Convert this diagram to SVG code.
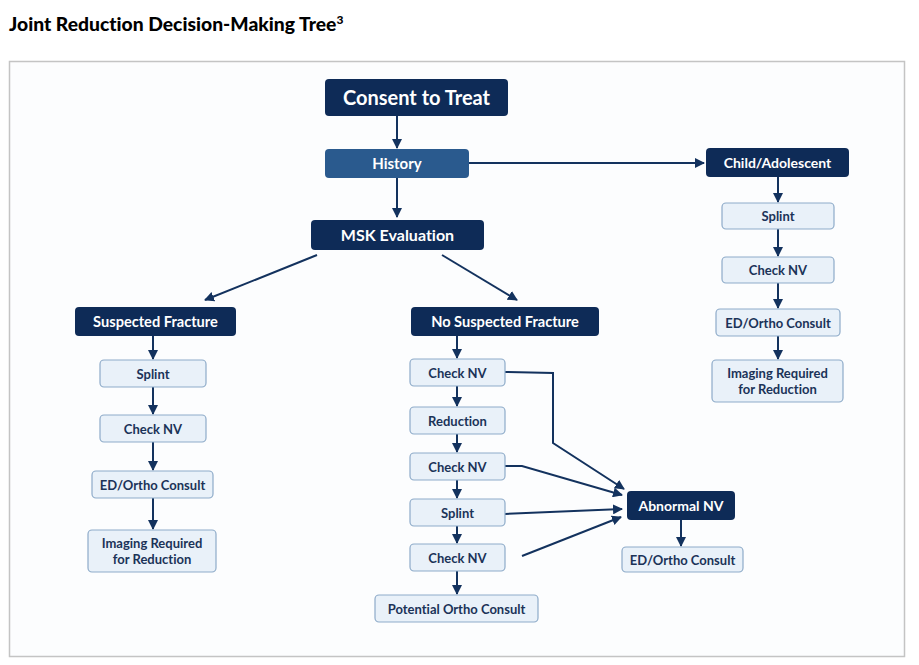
<svg xmlns="http://www.w3.org/2000/svg" width="919" height="665" viewBox="0 0 919 665">
<defs>
<marker id="ah" viewBox="0 0 10 10" refX="9" refY="5" markerWidth="10" markerHeight="10" markerUnits="userSpaceOnUse" orient="auto">
<path d="M0,0 L10,5 L0,10 z" fill="#13325e"/>
</marker>
</defs>
<style>
text{font-variant-ligatures:none;}
.dark{fill:#0e2b57;}
.mid{fill:#2a5a8e;}
.light{fill:#e9f1f9;stroke:#8eabc9;stroke-width:1.2;}
.wt{fill:#ffffff;font-family:Lato,"Open Sans",sans-serif;font-weight:bold;text-anchor:middle;}
.bt{fill:#1b3358;font-family:Lato,"Open Sans",sans-serif;font-weight:bold;text-anchor:middle;font-size:13px;}
.c{fill:none;stroke:#13325e;stroke-width:2;marker-end:url(#ah);}
</style>
<rect width="919" height="665" fill="#ffffff"/>
<text x="9" y="31" font-family="Lato,'Open Sans',sans-serif" font-weight="900" font-size="19.3" fill="#000">Joint Reduction Decision-Making Tree<tspan font-size="12" dy="-7">3</tspan></text>
<rect x="9.5" y="61.5" width="895" height="595" fill="#fcfdfe" stroke="#c4c4c4" stroke-width="1.5"/>

<g id="connectors">
<path class="c" d="M397,116 L397,148"/>
<path class="c" d="M397,178 L397,217"/>
<path class="c" d="M469,163 L704,163"/>
<path class="c" d="M317,255 L205,300"/>
<path class="c" d="M442,255 L517,300"/>
<path class="c" d="M778,177 L778,202"/>
<path class="c" d="M778,229 L778,256"/>
<path class="c" d="M778,283 L778,308"/>
<path class="c" d="M778,336 L778,359"/>
<path class="c" d="M153,336 L153,359"/>
<path class="c" d="M153,387 L153,414"/>
<path class="c" d="M153,442 L153,470"/>
<path class="c" d="M153,498 L153,529"/>
<path class="c" d="M457,336 L457,358"/>
<path class="c" d="M457,386 L457,406"/>
<path class="c" d="M457,434 L457,452"/>
<path class="c" d="M457,480 L457,498"/>
<path class="c" d="M457,526 L457,543"/>
<path class="c" d="M457,571 L457,594"/>
<path class="c" d="M505,372 L553,373 L553,443 L624,489"/>
<path class="c" d="M505,466 L522,466 L622,495"/>
<path class="c" d="M505,514 L622,509"/>
<path class="c" d="M522,556 L621,517"/>
<path class="c" d="M681,520 L681,546"/>
</g>

<g id="consent"><rect class="dark" x="325" y="79" width="183" height="37" rx="4"/><text class="wt" x="416.5" y="104.5" font-size="20">Consent to Treat</text></g>
<g id="history"><rect class="mid" x="325" y="149" width="144" height="29" rx="4"/><text class="wt" x="397" y="168.5" font-size="15">History</text></g>
<g id="msk"><rect class="dark" x="311" y="220" width="173" height="30" rx="4"/><text class="wt" x="397.5" y="240.5" font-size="16">MSK Evaluation</text></g>

<g id="child"><rect class="dark" x="706" y="148" width="143" height="29" rx="4"/><text class="wt" x="777.5" y="167.5" font-size="14">Child/Adolescent</text></g>
<g id="c-splint"><rect class="light" x="722" y="203" width="112" height="26" rx="4"/><text class="bt" x="778" y="221">Splint</text></g>
<g id="c-check"><rect class="light" x="722" y="257" width="112" height="26" rx="4"/><text class="bt" x="778" y="275">Check NV</text></g>
<g id="c-ed"><rect class="light" x="716" y="309" width="124" height="27" rx="4"/><text class="bt" x="778" y="327.5">ED/Ortho Consult</text></g>
<g id="c-imaging"><rect class="light" x="712" y="360" width="131" height="42" rx="4"/><text class="bt" x="777.5" y="377.5">Imaging Required</text><text class="bt" x="777.5" y="394">for Reduction</text></g>

<g id="suspected"><rect class="dark" x="75" y="307" width="161" height="29" rx="4"/><text class="wt" x="155.5" y="326.5" font-size="14.6">Suspected Fracture</text></g>
<g id="s-splint"><rect class="light" x="100" y="360" width="106" height="27" rx="4"/><text class="bt" x="153" y="378.5">Splint</text></g>
<g id="s-check"><rect class="light" x="100" y="415" width="106" height="27" rx="4"/><text class="bt" x="153" y="433.5">Check NV</text></g>
<g id="s-ed"><rect class="light" x="92" y="471" width="121" height="27" rx="4"/><text class="bt" x="152.5" y="489.5">ED/Ortho Consult</text></g>
<g id="s-imaging"><rect class="light" x="88" y="530" width="128" height="42" rx="4"/><text class="bt" x="152" y="547.5">Imaging Required</text><text class="bt" x="152" y="564">for Reduction</text></g>

<g id="nosuspected"><rect class="dark" x="411" y="307" width="188" height="29" rx="4"/><text class="wt" x="505" y="326.5" font-size="14.6">No Suspected Fracture</text></g>
<g id="n-check1"><rect class="light" x="410" y="359" width="95" height="27" rx="4"/><text class="bt" x="457.5" y="377.5">Check NV</text></g>
<g id="n-reduction"><rect class="light" x="410" y="407" width="95" height="27" rx="4"/><text class="bt" x="457.5" y="425.5">Reduction</text></g>
<g id="n-check2"><rect class="light" x="410" y="453" width="95" height="27" rx="4"/><text class="bt" x="457.5" y="471.5">Check NV</text></g>
<g id="n-splint"><rect class="light" x="410" y="499" width="95" height="27" rx="4"/><text class="bt" x="457.5" y="517.5">Splint</text></g>
<g id="n-check3"><rect class="light" x="410" y="544" width="95" height="27" rx="4"/><text class="bt" x="457.5" y="562.5">Check NV</text></g>
<g id="n-potential"><rect class="light" x="375" y="595" width="163" height="27" rx="4"/><text class="bt" x="456.5" y="613.5">Potential Ortho Consult</text></g>

<g id="abnormal"><rect class="dark" x="627" y="491" width="108" height="29" rx="4"/><text class="wt" x="681" y="510.5" font-size="14">Abnormal NV</text></g>
<g id="a-ed"><rect class="light" x="622" y="547" width="121" height="25" rx="4"/><text class="bt" x="682.5" y="564.5">ED/Ortho Consult</text></g>
</svg>
